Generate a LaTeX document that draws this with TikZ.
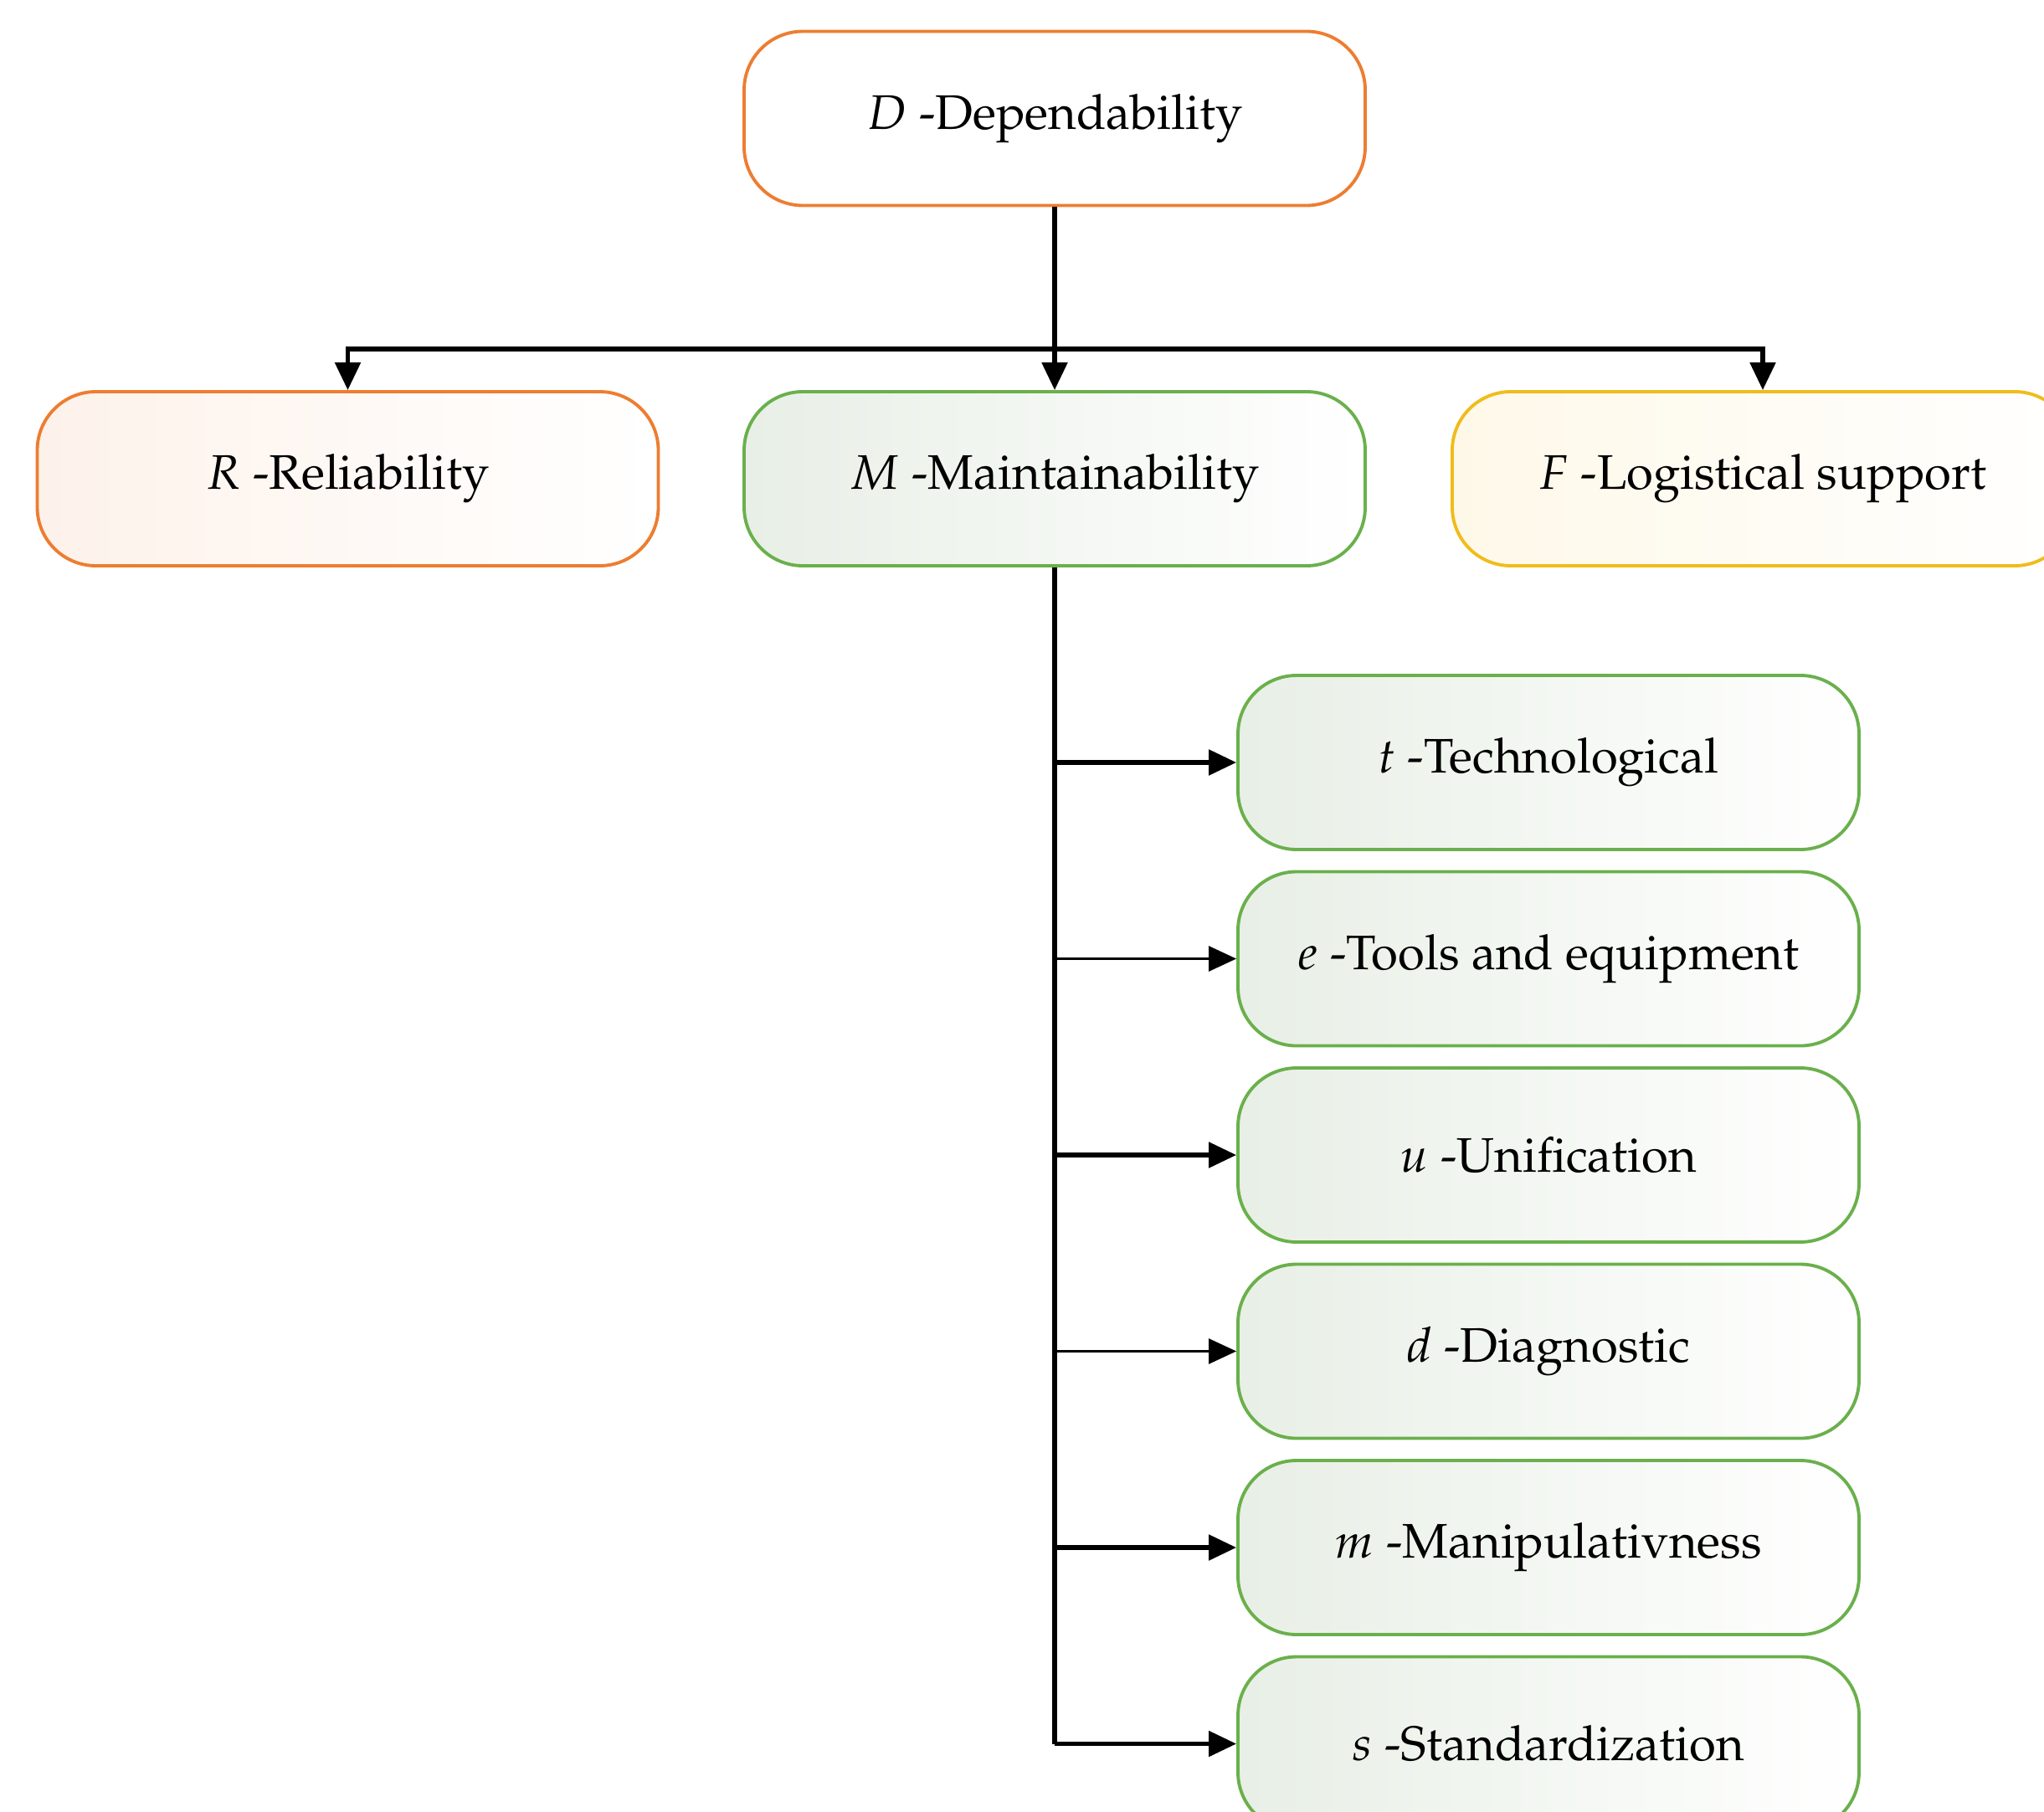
\documentclass[tikz,border=0pt]{standalone}
\usepackage[T1]{fontenc}
\usepackage{mathpazo}
\usetikzlibrary{arrows.meta}
\definecolor{boxorange}{HTML}{ED7D31}
\definecolor{boxgreen}{HTML}{6AB04C}
\definecolor{boxgold}{HTML}{F0BC1C}
\definecolor{subfill}{HTML}{E8EFE6}
\tikzset{
	factor/.style={draw=#1, line width=1.1pt, rounded corners=0.7cm,
		minimum width=7.42cm, minimum height=2.08cm,
		left color=#1!10, right color=white,
		font=\fontsize{16.5}{20}\selectfont},
	link/.style={line width=1.5pt, -{Triangle[length=0.33cm,width=0.3cm]}},
}
\begin{document}
\begin{tikzpicture}
	\useasboundingbox (0,0) rectangle (24.42,-21.65);
	\clip (0,0) rectangle (24.42,-21.65);
	% top level
	\node[factor=boxorange, left color=white] (dep) at (12.60,-1.415) {$D$ -Dependability};
	\node[factor=boxorange] (rel) at (4.155,-5.72) {$R$ -Reliability};
	\node[factor=boxgreen, left color=subfill] (mnt) at (12.60,-5.72) {$M$ -Maintainability};
	\node[factor=boxgold] (log) at (21.06,-5.72) {$F$ -Logistical support};
	\coordinate (bar) at (12.60,-4.17);
	\draw[link] (dep.south) -- (mnt.north);
	\draw[link] (bar) -| (rel.north);
	\draw[link] (bar) -| (log.north);
	% maintainability factors
	\foreach \name/\y/\lbl/\w in {
		tech/9.11/{$t$ -Technological}/1.5pt,
		tool/11.455/{$e$ -Tools and equipment}/0.8pt,
		unif/13.80/{$u$ -Unification}/1.5pt,
		diag/16.145/{$d$ -Diagnostic}/0.8pt,
		manip/18.49/{$m$ -Manipulativness}/1.5pt,
		stand/20.835/{$s$ -Standardization}/1.5pt}
	{
		\node[factor=boxgreen, left color=subfill] (\name) at (18.50,-\y) {\lbl};
		\draw[link, line width=\w] (\name.west -| mnt.south) -- (\name.west);
	}
	\draw[line width=1.5pt] (mnt.south) -- (stand.west -| mnt.south);
\end{tikzpicture}
\end{document}
